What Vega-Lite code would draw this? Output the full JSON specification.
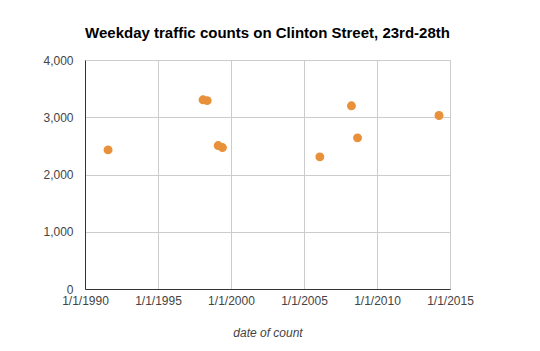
{
  "$schema": "https://vega.github.io/schema/vega-lite/v6.json",
  "width": 365,
  "height": 229,
  "autosize": "none",
  "padding": {"left": 85, "top": 60, "right": 90, "bottom": 62},
  "background": "white",
  "title": {
    "text": "Weekday traffic counts on Clinton Street, 23rd-28th",
    "font": "Liberation Sans",
    "fontSize": 15,
    "fontWeight": "bold",
    "color": "#000000",
    "anchor": "middle",
    "offset": 13
  },
  "data": {
    "values": [
      {"date": "1991-08-01", "count": 2430},
      {"date": "1998-02-01", "count": 3305},
      {"date": "1998-05-15", "count": 3290},
      {"date": "1999-02-15", "count": 2505},
      {"date": "1999-06-01", "count": 2470},
      {"date": "2006-02-01", "count": 2308},
      {"date": "2008-04-01", "count": 3200},
      {"date": "2008-09-01", "count": 2640},
      {"date": "2014-04-01", "count": 3030}
    ]
  },
  "mark": {"type": "circle", "size": 80, "color": "#e8913a", "opacity": 1},
  "encoding": {
    "x": {
      "field": "date",
      "type": "temporal",
      "scale": {"domain": [{"year": 1990, "month": 1, "date": 1}, {"year": 2015, "month": 1, "date": 1}], "nice": false},
      "axis": {
        "title": "date of count",
        "titleFont": "Liberation Sans",
        "titleFontSize": 12,
        "titleFontStyle": "italic",
        "titleFontWeight": "normal",
        "titleColor": "#444444",
        "titlePadding": 21,
        "values": [
          {"year": 1990, "month": 1, "date": 1},
          {"year": 1995, "month": 1, "date": 1},
          {"year": 2000, "month": 1, "date": 1},
          {"year": 2005, "month": 1, "date": 1},
          {"year": 2010, "month": 1, "date": 1},
          {"year": 2015, "month": 1, "date": 1}
        ],
        "format": "%-m/%-d/%Y",
        "labelFont": "Liberation Sans",
        "labelFontSize": 12,
        "labelColor": "#444444",
        "labelPadding": 6,
        "labelFlush": false,
        "labelOverlap": false,
        "ticks": false,
        "domain": true,
        "domainColor": "#333333",
        "grid": true,
        "gridColor": "#cccccc"
      }
    },
    "y": {
      "field": "count",
      "type": "quantitative",
      "scale": {"domain": [0, 4000], "nice": false},
      "axis": {
        "title": null,
        "values": [0, 1000, 2000, 3000, 4000],
        "format": ",d",
        "labelFont": "Liberation Sans",
        "labelFontSize": 12,
        "labelColor": "#444444",
        "labelPadding": 12,
        "ticks": false,
        "domain": true,
        "domainColor": "#333333",
        "grid": true,
        "gridColor": "#cccccc"
      }
    }
  },
  "config": {
    "view": {"stroke": "#cccccc"}
  }
}
